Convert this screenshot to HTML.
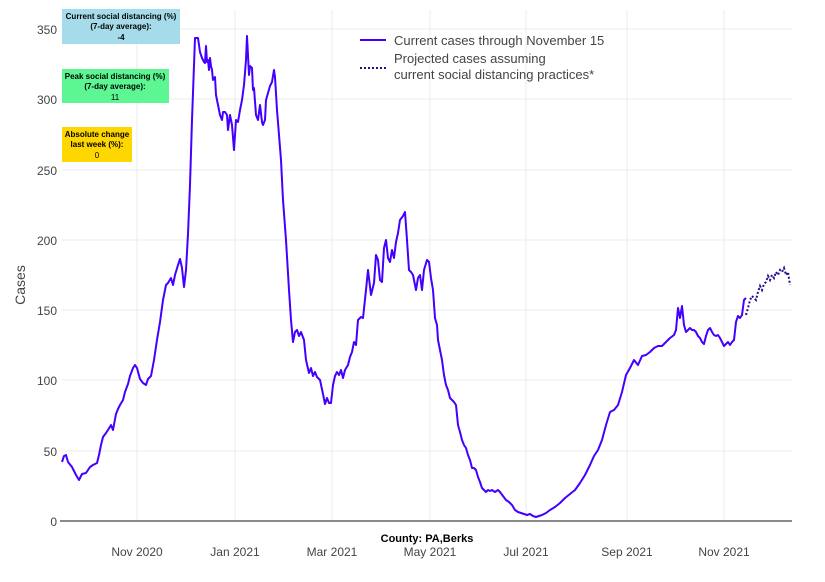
<!DOCTYPE html>
<html><head><meta charset="utf-8"><style>
body{margin:0;background:#fff;}
svg{display:block;font-family:"Liberation Sans",sans-serif;}
</style></head><body>
<svg width="825" height="582" viewBox="0 0 825 582">
<g stroke="#ebebeb" stroke-width="1">
<line x1="137" y1="10" x2="137" y2="521"/><line x1="235" y1="10" x2="235" y2="521"/>
<line x1="332" y1="10" x2="332" y2="521"/><line x1="430" y1="10" x2="430" y2="521"/>
<line x1="526" y1="10" x2="526" y2="521"/><line x1="627" y1="10" x2="627" y2="521"/>
<line x1="724" y1="10" x2="724" y2="521"/>
<line x1="62" y1="29" x2="792" y2="29"/><line x1="62" y1="99" x2="792" y2="99"/>
<line x1="62" y1="170" x2="792" y2="170"/><line x1="62" y1="240" x2="792" y2="240"/>
<line x1="62" y1="310" x2="792" y2="310"/><line x1="62" y1="380" x2="792" y2="380"/>
<line x1="62" y1="451" x2="792" y2="451"/>
</g>
<line x1="60" y1="521" x2="792" y2="521" stroke="#444" stroke-width="1.2"/>
<g font-size="12" fill="#444" text-anchor="end">
<text x="57" y="34">350</text><text x="57" y="104">300</text><text x="57" y="175">250</text>
<text x="57" y="245">200</text><text x="57" y="315">150</text><text x="57" y="385">100</text>
<text x="57" y="456">50</text><text x="57" y="526">0</text>
</g>
<g font-size="12" fill="#444" text-anchor="middle">
<text x="137" y="556">Nov 2020</text><text x="235" y="556">Jan 2021</text><text x="332" y="556">Mar 2021</text>
<text x="430" y="556">May 2021</text><text x="526" y="556">Jul 2021</text><text x="627" y="556">Sep 2021</text>
<text x="724" y="556">Nov 2021</text>
</g>
<text x="427" y="542" font-size="11" font-weight="bold" text-anchor="middle" fill="#000">County: PA,Berks</text>
<text transform="translate(25,285) rotate(-90)" font-size="14" fill="#444" text-anchor="middle">Cases</text>
<polyline fill="none" stroke="#4400ff" stroke-width="2" stroke-linejoin="round" points="62,462 64,456 66,455 68,462 72,467 76,475 79,480 82,474 86,473 90,467 93,465 97,463 99,455 101,445 103,437 106,433 108,430 111,425 113,430 116,414 118,409 120,405 123,400 125,392 128,384 130,376 133,368 135,365 137,368 140,379 143,383 146,385 148,379 151,376 154,360 157,340 160,322 163,300 166,285 168,283 171,278 173,285 175,275 178,265 180,259 182,268 184,287 186,270 188,234 190,185 192,120 195,38 198,38 200,52 202,58 204,62 205,63 206,46 207,62 208,60 209,70 210,58 211,66 212,70 213,80 215,77 216,95 218,105 220,115 222,120 223,112 225,112 227,115 228,130 230,115 232,125 234,150 236,120 238,122 240,110 242,100 244,85 246,60 247,36 249,75 250,66 252,68 253,90 254,88 256,115 258,120 260,105 262,122 263,125 265,120 266,100 268,93 270,86 272,82 274,70 275,77 277,110 279,135 281,160 283,200 286,240 289,290 291,320 293,342 295,332 297,330 299,336 301,332 304,340 306,360 309,373 311,368 313,376 315,372 317,377 320,380 323,394 325,404 327,398 329,403 331,403 333,385 335,376 337,372 339,375 341,370 343,378 345,370 348,365 350,357 352,352 354,342 356,345 358,320 361,317 363,318 366,290 368,270 371,295 374,283 376,255 378,260 380,280 382,282 384,248 386,240 388,258 390,262 392,250 394,258 396,242 398,233 400,220 403,216 405,212 407,240 409,270 411,272 413,275 416,290 418,278 420,275 422,290 424,270 427,260 429,262 431,278 433,290 435,318 437,325 438,340 440,350 442,360 444,375 446,385 448,390 450,398 452,400 454,402 456,405 458,425 460,432 462,440 464,445 466,448 468,455 470,460 472,468 474,468 476,470 478,477 480,482 482,488 484,490 486,492 488,490 490,491 492,490 495,492 498,490 500,492 503,496 506,500 509,502 512,505 515,510 518,512 521,513 524,514 527,515 530,514 533,516 536,517 539,516 542,515 546,513 550,510 555,507 560,503 565,498 570,494 575,490 580,483 585,475 590,465 594,456 598,450 602,440 606,425 610,412 614,410 618,405 622,392 626,375 630,368 634,360 638,365 642,356 646,355 650,352 654,348 658,346 662,346 666,342 670,338 674,335 676,330 678,308 680,318 682,306 684,325 686,332 688,330 690,328 692,330 694,330 696,332 698,336 700,338 702,342 704,344 706,336 708,330 710,328 712,332 714,335 716,336 718,335 720,338 722,342 724,346 726,344 728,342 730,345 732,342 734,340 736,322 738,316 740,318 742,315 744,300 746,298"/>
<polyline fill="none" stroke="#2a0a8a" stroke-width="2" stroke-dasharray="2,2" points="746,315 748,308 750,300 752,296 754,298 756,300 758,292 760,286 762,290 764,284 766,282 768,276 770,280 772,275 774,278 776,272 778,275 780,270 782,272 784,268 786,275 788,272 790,285"/>
<line x1="360" y1="40" x2="386" y2="40" stroke="#4400ff" stroke-width="2"/>
<line x1="360" y1="68" x2="386" y2="68" stroke="#2a0a8a" stroke-width="2" stroke-dasharray="2,2"/>
<g font-size="13" fill="#444">
<text x="394" y="45">Current cases through November 15</text>
<text x="394" y="63">Projected cases assuming</text>
<text x="394" y="79">current social distancing practices*</text>
</g>
<rect x="62" y="9" width="118" height="35" fill="#a6dce9"/>
<rect x="62" y="69" width="107" height="34" fill="#5cf792"/>
<rect x="62" y="127" width="70" height="35" fill="#ffd700"/>
<g font-size="8" text-anchor="middle" fill="#000">
<text x="121" y="19" font-weight="bold">Current social distancing (%)</text>
<text x="121" y="29" font-weight="bold">(7-day average):</text>
<text x="121" y="40" font-weight="bold">-4</text>
<text x="115" y="79" font-weight="bold">Peak social distancing (%)</text>
<text x="115" y="89" font-weight="bold">(7-day average):</text>
<text x="115" y="100">11</text>
<text x="97" y="137" font-weight="bold">Absolute change</text>
<text x="97" y="147" font-weight="bold">last week (%):</text>
<text x="97" y="158">0</text>
</g>
</svg>
</body></html>
